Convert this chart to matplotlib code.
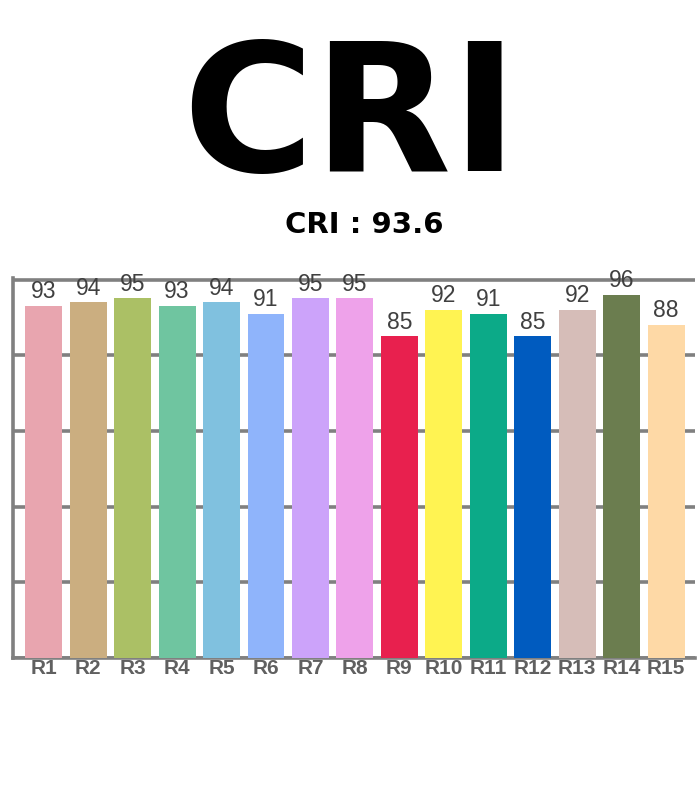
import matplotlib.pyplot as plt

labels = ["R1", "R2", "R3", "R4", "R5", "R6", "R7", "R8",
          "R9", "R10", "R11", "R12", "R13", "R14", "R15"]
values = [93, 94, 95, 93, 94, 91, 95, 95, 85, 92, 91, 85, 92, 96, 88]
colors = ["#E8A5AF", "#CBAE80", "#ABC065", "#6FC5A0", "#80C1DF", "#8FB4FB",
          "#CCA3FA", "#EEA2EA", "#E8204E", "#FFF352", "#0CAA88", "#005BBF",
          "#D6BDB8", "#6B7D4F", "#FED9A6"]
cri_value = 93.6

fig = plt.figure(figsize=(7, 8.06), dpi=100)

# big title and the sub title
fig.text(0.5, 0.849, "CRI", ha="center", va="center", fontsize=129,
         fontweight="bold", family="DejaVu Sans", color="black")
fig.text(0.521, 0.721, f"CRI : {cri_value}", ha="center", va="center", fontsize=21,
         fontweight="bold", family="DejaVu Sans", color="black")

ax = fig.add_axes([13 / 700, 0.1836, 682 / 700, 0.4715])
x = list(range(len(labels)))
ax.bar(x, values, width=0.83, color=colors, zorder=3)

for xi, v in zip(x, values):
    ax.text(xi, v + 0.7, str(v), ha="center", va="bottom", fontsize=16.5,
            family="Liberation Sans", color="#404040", zorder=4)

ax.set_xlim(-0.69, 14.65)
ax.set_ylim(0, 100.4)
ax.set_yticks([0, 20, 40, 60, 80, 100])
ax.set_yticklabels([])
ax.yaxis.grid(True, color="#808080", linewidth=2.6, zorder=0)
ax.set_axisbelow(True)
ax.tick_params(axis="y", length=0)
ax.tick_params(axis="x", length=0, pad=1)
ax.set_xticks(x)
ax.set_xticklabels(labels, fontsize=15, fontweight="bold",
                   family="Liberation Sans", color="#606060")

for side in ["top", "right"]:
    ax.spines[side].set_visible(False)
for side in ["left", "bottom"]:
    ax.spines[side].set_color("#808080")
    ax.spines[side].set_linewidth(2.6)

fig.savefig("out.png", dpi=100)
